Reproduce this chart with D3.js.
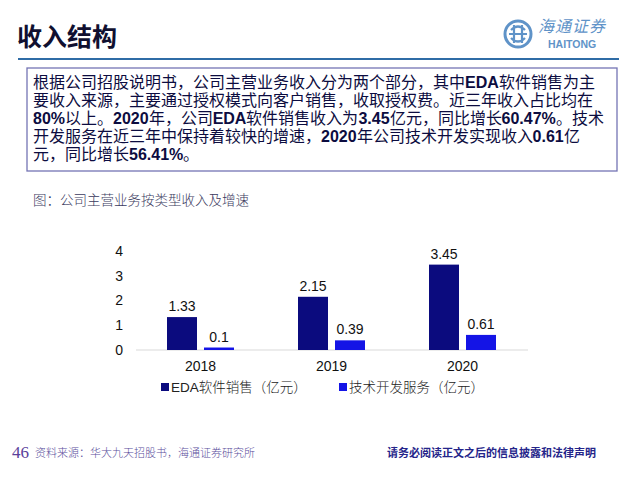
<!DOCTYPE html>
<html>
<head>
<meta charset="utf-8">
<script src="https://cdn.jsdelivr.net/npm/d3@7"></script>
<style>
  body { margin: 0; background: #fff; }
  svg { display: block; }
  /* same CJK font with tighter line metrics, so 18px line spacing fits */
  @font-face {
    font-family: "CJKBody";
    src: local("Noto Sans CJK SC"), local("Noto Sans CJK SC Regular"), local("NotoSansCJKsc-Regular");
    font-weight: normal;
    ascent-override: 86%;
    descent-override: 22%;
    line-gap-override: 0%;
  }
  @font-face {
    font-family: "CJKBody";
    src: local("Noto Sans CJK SC Bold"), local("NotoSansCJKsc-Bold");
    font-weight: bold;
    ascent-override: 86%;
    descent-override: 22%;
    line-gap-override: 0%;
  }
</style>
</head>
<body>
<div id="chart"></div>
<script>
// data
const years = ['2018', '2019', '2020']
const seriesNames = ['EDA软件销售（亿元）', '技术开发服务（亿元）']
const edaSales = [1.33, 2.15, 3.45]
const techService = [0.1, 0.39, 0.61]
const yTicks = [0, 1, 2, 3, 4]
const colors = ['#0b0b7e', '#1414e6']

// paragraph, bold parts marked with **
const bodyLines = [
  '根据公司招股说明书，公司主营业务收入分为两个部分，其中**EDA**软件销售为主',
  '要收入来源，主要通过授权模式向客户销售，收取授权费。近三年收入占比均在',
  '**80%**以上。**2020**年，公司**EDA**软件销售收入为**3.45**亿元，同比增长**60.47%**。技术',
  '开发服务在近三年中保持着较快的增速，**2020**年公司技术开发实现收入**0.61**亿',
  '元，同比增长**56.41%**。'
]

const width = 640
const height = 480
const cjk = '"Noto Sans CJK SC", "Noto Sans", sans-serif'
const cjkBody = '"CJKBody", "Noto Sans CJK SC", sans-serif'
const latin = '"Liberation Sans", Arial, sans-serif'

const svg = d3.select('#chart')
  .append('svg')
  .attr('width', width)
  .attr('height', height)

// header
svg.append('text')
  .attr('x', 17)
  .attr('y', 46)
  .text('收入结构')
  .style('font', `bold 25px ${cjk}`)
  .style('fill', '#101030')

svg.append('line')
  .attr('x1', 18).attr('x2', 619)
  .attr('y1', 59).attr('y2', 59)
  .style('stroke', '#2f6ca6')
  .style('stroke-width', 2)

// logo
const logo = svg.append('g').attr('transform', 'translate(518, 34)')
const logoColor = '#5f93c8'
logo.append('circle').attr('r', 13)
  .style('fill', 'none').style('stroke', logoColor).style('stroke-width', 3)
logo.append('path')
  .attr('d', 'M-7,-4 Q0,-11 7,-4 M-7,4 Q0,11 7,4 M-4,-9 L-4,9 M4,-9 L4,9 M-9,0 L9,0')
  .style('fill', 'none').style('stroke', logoColor).style('stroke-width', 2.2)
svg.append('text')
  .attr('x', 538).attr('y', 32)
  .text('海通证券')
  .style('font', `italic 16px ${cjk}`)
  .style('letter-spacing', '1px')
  .style('fill', logoColor)
svg.append('text')
  .attr('x', 548).attr('y', 48)
  .text('HAITONG')
  .style('font', `bold 10.5px ${latin}`)
  .style('fill', logoColor)

// text box
svg.append('rect')
  .attr('x', 27).attr('y', 68)
  .attr('width', 590).attr('height', 103)
  .style('fill', 'none')
  .style('stroke', '#7474b4')
  .style('stroke-width', 1.3)

bodyLines.forEach((line, i) => {
  const t = svg.append('text')
    .attr('x', 33)
    .attr('y', 88 + i * 18)
    .style('fill', '#0c0c40')
  line.split('**').forEach((part, j) => {
    if (!part) return
    t.append('tspan')
      .text(part)
      .style('font', j % 2 ? `bold 16px ${latin}` : `16px ${cjkBody}`)
  })
})

svg.append('text')
  .attr('x', 33)
  .attr('y', 205)
  .text('图：公司主营业务按类型收入及增速')
  .style('font', `300 13.5px ${cjk}`)
  .style('fill', '#3a3a5e')

// chart
const x0 = d3.scaleBand()
  .domain(years)
  .range([135, 528])

const x1 = d3.scaleBand()
  .domain(seriesNames)
  .range([0, 67])
  .paddingInner(7 / 37)

const y = d3.scaleLinear()
  .domain([0, 4])
  .range([350, 251])

svg.append('line')
  .attr('x1', 136).attr('x2', 528)
  .attr('y1', y(0)).attr('y2', y(0))
  .style('stroke', '#d9d9d9')
  .style('stroke-width', 1)

const yAxis = svg.append('g')
  .attr('transform', 'translate(126, 0)')
  .call(d3.axisLeft(y).tickValues(yTicks).tickSize(0).tickPadding(3).tickFormat(d3.format('d')))
yAxis.select('.domain').remove()
yAxis.selectAll('text')
  .style('font', `14px ${latin}`)
  .style('fill', '#111')

const xAxis = svg.append('g')
  .attr('transform', `translate(0, ${y(0)})`)
  .call(d3.axisBottom(x0).tickSize(0).tickPadding(11))
xAxis.select('.domain').remove()
xAxis.selectAll('text')
  .style('font', `14px ${latin}`)
  .style('fill', '#111')

const seriesData = [edaSales, techService]

const groups = svg.selectAll('.group')
  .data(years)
  .enter()
  .append('g')
  .attr('class', 'group')
  .attr('transform', d => `translate(${x0(d) + x0.bandwidth() / 2 - 33.5}, 0)`)

groups.selectAll('rect')
  .data((_, i) => seriesNames.map((s, k) => ({ s, k, v: seriesData[k][i] })))
  .enter()
  .append('rect')
  .attr('x', d => x1(d.s))
  .attr('y', d => y(d.v))
  .attr('width', x1.bandwidth())
  .attr('height', d => y(0) - y(d.v))
  .style('fill', d => colors[d.k])

groups.selectAll('.val')
  .data((_, i) => seriesNames.map((s, k) => ({ s, k, v: seriesData[k][i] })))
  .enter()
  .append('text')
  .attr('class', 'val')
  .attr('x', d => x1(d.s) + x1.bandwidth() / 2)
  .attr('y', d => y(d.v) - 6)
  .attr('text-anchor', 'middle')
  .text(d => d.v)
  .style('font', `14px ${latin}`)
  .style('fill', '#111')

// legend
const legendX = [161, 339]
seriesNames.forEach((name, k) => {
  svg.append('rect')
    .attr('x', legendX[k]).attr('y', 383)
    .attr('width', 8).attr('height', 8)
    .style('fill', colors[k])
  const t = svg.append('text')
    .attr('x', legendX[k] + 10).attr('y', 392)
    .style('fill', '#222')
  if (name.startsWith('EDA')) {
    t.append('tspan').text('EDA').style('font', `13.5px ${latin}`)
    t.append('tspan').text(name.slice(3)).style('font', `300 13.5px ${cjk}`)
  } else {
    t.append('tspan').text(name).style('font', `300 13.5px ${cjk}`)
  }
})

// footer
svg.append('text')
  .attr('x', 12).attr('y', 458)
  .text('46')
  .style('font', '17px "Liberation Serif", serif')
  .style('fill', '#5a409a')
svg.append('text')
  .attr('x', 35).attr('y', 457)
  .text('资料来源：华大九天招股书，海通证券研究所')
  .style('font', `300 11px ${cjk}`)
  .style('fill', '#5a4e9c')
svg.append('text')
  .attr('x', 387).attr('y', 457)
  .text('请务必阅读正文之后的信息披露和法律声明')
  .style('font', `bold 11px ${cjk}`)
  .style('fill', '#25258a')
</script>
</body>
</html>
